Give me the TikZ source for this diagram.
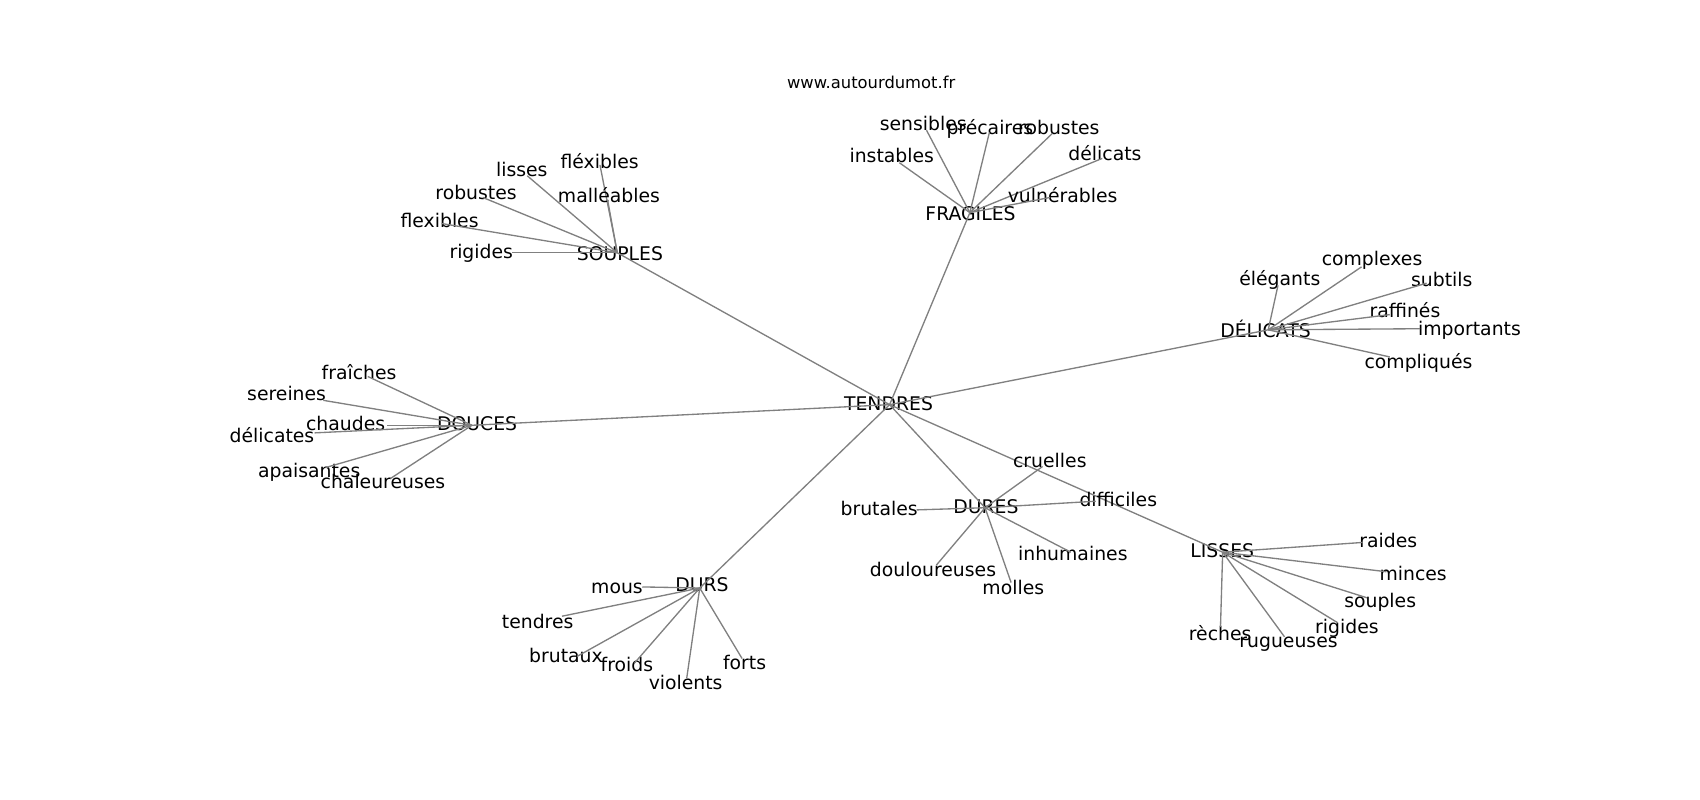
\documentclass[tikz,border=0pt]{standalone}
\usepackage{fontspec}
\setmainfont{DejaVu Sans}
\tikzset{
  lbl/.style={inner sep=0pt, outer sep=0pt, text height=10.3pt, text depth=0pt, anchor=center,
    font=\fontsize{14.1}{16}\selectfont},
  ttl/.style={inner sep=0pt, outer sep=0pt, text height=8.9pt, text depth=0pt, anchor=center,
    font=\fontsize{12.25}{14}\selectfont},
  edge/.style={draw=black!50, line width=1pt}
}
\newcommand\myhub[4]{\node[lbl] (#1) at (#2) {#4}; \coordinate (#1c) at (#3);}
\newcommand\myleaf[5]{\node[lbl] (#1) at (#2) {#4}; \coordinate (#1e) at (#3); \draw[edge] (#5c) -- (#1e);}
\begin{document}
\begin{tikzpicture}[x=0.8131pt, y=-0.8131pt]
\useasboundingbox (0,0) rectangle (1567,737.4);
\node[ttl] (title) at (803,76) {www.autourdumot.fr};

% hubs
\myhub{T}{819,372}{820,373}{TENDRES}
\myhub{S}{571.4,234}{569,233}{SOUPLES}
\myhub{F}{894.6,197}{894,196}{FRAGILES}
\myhub{D}{1166.5,304.8}{1169,304}{DÉLICATS}
\myhub{O}{439.8,390.5}{435,392}{DOUCES}
\myhub{R}{908.8,466.7}{908,468}{DURES}
\myhub{L}{1126.6,507.2}{1127,509}{LISSES}
\myhub{U}{647,538.5}{645,542}{DURS}

\foreach \h in {S,F,D,O,R,L,U} {\draw[edge] (Tc) -- (\h c);}

% SOUPLES
\myleaf{s1}{443.6,232.3}{472,233}{rigides}{S}
\myleaf{s2}{405.2,203.4}{407,206}{flexibles}{S}
\myleaf{s3}{438.8,178}{445,182}{robustes}{S}
\myleaf{s4}{481,156.7}{486,162}{lisses}{S}
\myleaf{s5}{552.7,149.3}{553,152}{fléxibles}{S}
\myleaf{s6}{561.3,180}{560,184}{malléables}{S}

% FRAGILES
\myleaf{f1}{822,143}{829,150}{instables}{F}
\myleaf{f2}{851,114}{854,120}{sensibles}{F}
\myleaf{f3}{912.4,117.7}{912,122}{précaires}{F}
\myleaf{f4}{976,117.5}{970,123}{robustes}{F}
\myleaf{f5}{1018.5,142}{1016,146}{délicats}{F}
\myleaf{f6}{979.5,180}{968,182}{vulnérables}{F}

% DELICATS
\myleaf{d1}{1179.7,256.8}{1178,263}{élégants}{D}
\myleaf{d2}{1264.7,238.4}{1255,246}{complexes}{D}
\myleaf{d3}{1329,257.8}{1315,261}{subtils}{D}
\myleaf{d4}{1295,286}{1281,290}{raffinés}{D}
\myleaf{d5}{1354.5,302.6}{1309,303}{importants}{D}
\myleaf{d6}{1307.5,333}{1281,329}{compliqués}{D}

% DOUCES
\myleaf{o1}{331,343.5}{339,347}{fraîches}{O}
\myleaf{o2}{264.2,362.8}{298,369}{sereines}{O}
\myleaf{o3}{318.6,390.5}{357,392}{chaudes}{O}
\myleaf{o4}{250.7,401.2}{290,399}{délicates}{O}
\myleaf{o5}{285,434}{300,431}{apaisantes}{O}
\myleaf{o6}{353,444}{360,441}{chaleureuses}{O}

% DURES
\myleaf{r1}{967.7,424.3}{961,430}{cruelles}{R}
\myleaf{r2}{1030.8,460.8}{1010,462}{difficiles}{R}
\myleaf{r3}{810.4,469}{845,470}{brutales}{R}
\myleaf{r4}{860,525}{863,521}{douloureuses}{R}
\myleaf{r5}{934,542}{932,537}{molles}{R}
\myleaf{r6}{988.9,510}{987,509}{inhumaines}{R}

% LISSES
\myleaf{l1}{1279.6,498.6}{1256,500}{raides}{L}
\myleaf{l2}{1302.6,528.4}{1278,527}{minces}{L}
\myleaf{l3}{1272.2,553.3}{1260,551}{souples}{L}
\myleaf{l4}{1241.5,577.3}{1233,574}{rigides}{L}
\myleaf{l5}{1187.7,590.5}{1184,587}{rugueuses}{L}
\myleaf{l6}{1124.7,584.2}{1125,578}{rèches}{L}

% DURS
\myleaf{u1}{568.7,541}{592,541}{mous}{U}
\myleaf{u2}{495.6,573.3}{518,568}{tendres}{U}
\myleaf{u3}{521.7,604.3}{532,605}{brutaux}{U}
\myleaf{u4}{577.9,612.9}{585,611}{froids}{U}
\myleaf{u5}{632,628.9}{633,625}{violents}{U}
\myleaf{u6}{686.3,610.4}{684,607}{forts}{U}
\end{tikzpicture}
\end{document}
